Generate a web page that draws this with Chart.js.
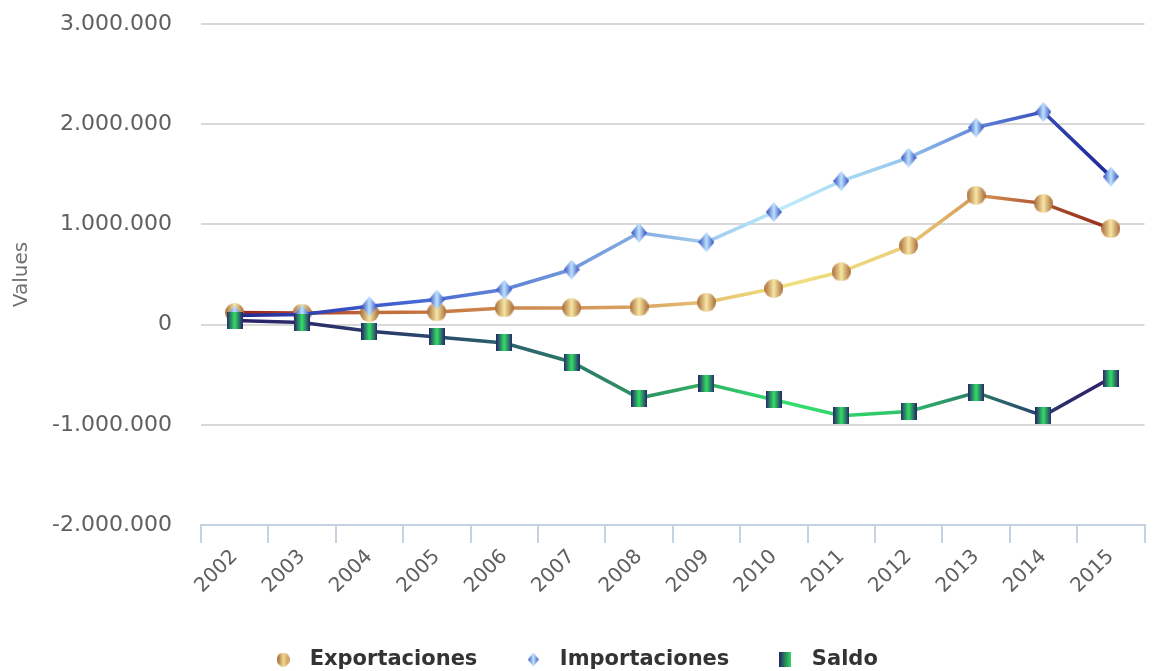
<!DOCTYPE html>
<html lang="es">
<head>
<meta charset="utf-8">
<title>Exportaciones / Importaciones / Saldo</title>
<script src="https://cdn.jsdelivr.net/npm/chart.js@4.4.1/dist/chart.umd.min.js"></script>
<style>
  html, body { margin: 0; padding: 0; background: #fff; }
  #wrap { width: 1157px; height: 671px; position: relative; }
</style>
</head>
<body>
<div id="wrap"><canvas id="chart"></canvas></div>
<script>
// años (categorías)
const years = ['2002', '2003', '2004', '2005', '2006', '2007', '2008', '2009', '2010', '2011', '2012', '2013', '2014', '2015'];

// valores
const exportaciones = [120000, 115000, 120000, 127000, 167000, 167000, 177000, 223000, 360000, 527000, 790000, 1290000, 1210000, 957000];
const importaciones = [90000, 100000, 183000, 250000, 350000, 550000, 917000, 823000, 1123000, 1433000, 1667000, 1967000, 2123000, 1477000];
const saldo = [40000, 20000, -67000, -123000, -183000, -373000, -733000, -590000, -750000, -910000, -867000, -677000, -910000, -533000];

const yMin = -2000000;
const yMax = 3000000;
const yStep = 1000000;

const fmtNum = (v) => (v < 0 ? '-' : '') + String(Math.abs(v)).replace(/\B(?=(\d{3})+(?!\d))/g, '.');

// degradado horizontal a lo ancho del área del gráfico
function lineGradient(stops) {
  return (ctx) => {
    const chart = ctx.chart;
    const a = chart.chartArea;
    if (!a) return stops[0][1];
    const g = chart.ctx.createLinearGradient(a.left, 0, a.right, 0);
    stops.forEach(([o, c]) => g.addColorStop(o, c));
    return g;
  };
}

// marcadores con degradado (canvas como pointStyle)
function marker(shape, w, h, colors) {
  const c = document.createElement('canvas');
  c.width = w; c.height = h;
  const x = c.getContext('2d');
  const g = x.createLinearGradient(0, 0, w, 0);
  colors.forEach((col, i) => g.addColorStop(i / (colors.length - 1), col));
  x.fillStyle = g;
  x.beginPath();
  if (shape === 'circle') x.ellipse(w / 2, h / 2, w / 2, h / 2, 0, 0, Math.PI * 2);
  else if (shape === 'diamond') {
    x.moveTo(w / 2, 0); x.lineTo(w, h / 2); x.lineTo(w / 2, h); x.lineTo(0, h / 2); x.closePath();
  } else x.rect(0, 0, w, h);
  x.fill();
  return c;
}

const expColors = ['#a86a38', '#f6e6a4', '#a86a38'];
const impColors = ['#2a44bc', '#bfe4ff', '#2a44bc'];
const salColors = ['#26246a', '#33e064', '#26246a'];

const expPoint = marker('circle', 19, 19, expColors);
const impPoint = marker('diamond', 16, 20, impColors);
const salPoint = marker('rect', 16, 17, salColors);

const legendPoints = [
  marker('circle', 13, 14, ['#9a5a2a', '#f0d890', '#c89050']),
  marker('diamond', 11, 14, ['#3050c0', '#c0e4ff', '#3050c0']),
  marker('rect', 12, 15, ['#26246a', '#2a8a5a', '#33e064']),
];

const expLine = lineGradient([[0, '#8a1010'], [0.18, '#c06a3a'], [0.45, '#d8a060'], [0.62, '#f0e080'], [0.74, '#ecd078'], [0.82, '#d89a58'], [0.9, '#a84a2a'], [1, '#8a1a12']]);
const impLine = lineGradient([[0, '#1a1a8a'], [0.2, '#4060d0'], [0.45, '#80a8e0'], [0.62, '#bcecfa'], [0.74, '#98c8ee'], [0.84, '#5878d4'], [0.92, '#2a3aa8'], [1, '#141e8c']]);
const salLine = lineGradient([[0, '#2a1a6a'], [0.2, '#2a3c6a'], [0.35, '#2a6a6a'], [0.5, '#30a060'], [0.62, '#34e070'], [0.74, '#30c468'], [0.84, '#2a6a6a'], [0.92, '#2a2a6a'], [1, '#3a1a6a']]);

// la leyenda de Chart.js queda algo desplazada a la derecha (marcador centrado en su caja)
const legendNudge = {
  id: 'legendNudge',
  afterLayout(chart) {
    if (!chart.legend) return;
    chart.legend.left -= 5;
    chart.legend.right -= 5;
  },
};

const ctx = document.getElementById('chart');
Chart.defaults.font.family = '"DejaVu Sans", sans-serif';

new Chart(ctx, {
  type: 'line',
  plugins: [legendNudge],
  data: {
    labels: years,
    datasets: [
      {
        label: 'Exportaciones',
        data: exportaciones,
        borderColor: expLine,
        borderWidth: 3.5,
        pointStyle: expPoint,
        pointRadius: 9,
        tension: 0,
        order: 3,
      },
      {
        label: 'Importaciones',
        data: importaciones,
        borderColor: impLine,
        borderWidth: 3.5,
        pointStyle: impPoint,
        pointRadius: 9,
        tension: 0,
        order: 2,
      },
      {
        label: 'Saldo',
        data: saldo,
        borderColor: salLine,
        borderWidth: 3.5,
        pointStyle: salPoint,
        pointRadius: 9,
        tension: 0,
        order: 1,
      },
    ],
  },
  options: {
    responsive: true,
    maintainAspectRatio: false,
    animation: false,
    layout: { padding: { left: 10, right: 12, top: 24, bottom: -9 } },
    plugins: {
      tooltip: { enabled: false },
      legend: {
        position: 'bottom',
        labels: {
          usePointStyle: true,
          pointStyleWidth: 32,
          padding: 40,
          color: '#333',
          font: { size: 21, weight: 'bold' },
          sort: (a, b) => a.datasetIndex - b.datasetIndex,
          generateLabels: (chart) => {
            const items = Chart.defaults.plugins.legend.labels.generateLabels(chart);
            items.forEach((it) => { it.pointStyle = legendPoints[it.datasetIndex]; });
            return items;
          },
        },
      },
    },
    scales: {
      x: {
        type: 'category',
        offset: true,
        grid: { offset: true, drawOnChartArea: false, tickLength: 18, color: '#c4d2e2', lineWidth: 2 },
        border: { color: '#c4d2e2', width: 2 },
        ticks: { minRotation: 45, maxRotation: 45, color: '#606060', font: { size: 20 }, padding: 2 },
        afterFit: (scale) => { scale.height += 9; },
      },
      y: {
        min: yMin,
        max: yMax,
        ticks: { stepSize: yStep, color: '#606060', font: { size: 22 }, padding: 4, callback: (v) => fmtNum(v) },
        grid: { color: '#d8d8d8', lineWidth: 2, drawTicks: true, tickLength: 25, tickColor: 'rgba(0,0,0,0)' },
        border: { display: false },
        title: { display: true, text: 'Values', color: '#707070', font: { size: 20 }, padding: { top: 0, bottom: 14 } },
      },
    },
  },
});
</script>
</body>
</html>
